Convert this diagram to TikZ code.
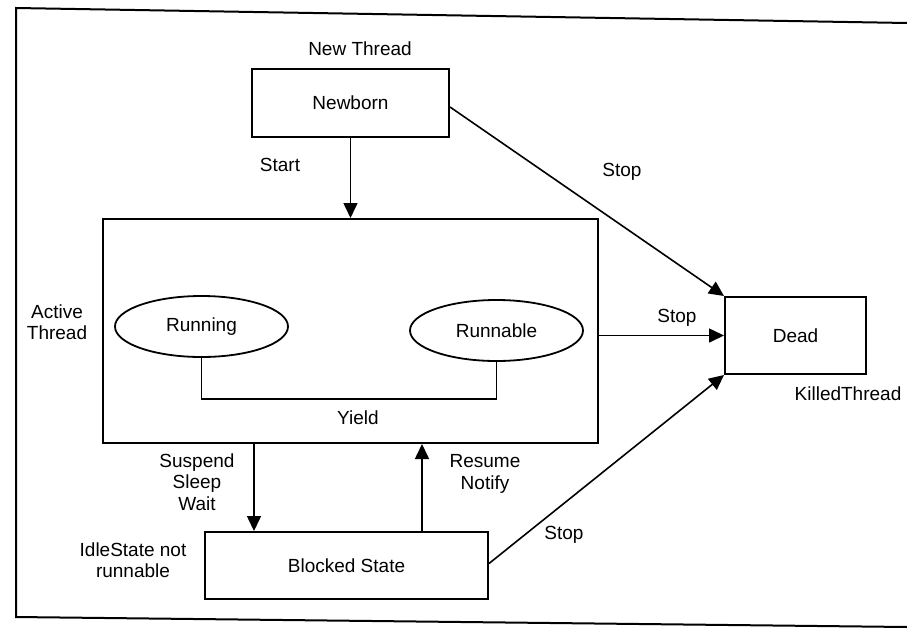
\documentclass[tikz,border=0pt]{standalone}
\usepackage{fontspec}
\setmainfont{Liberation Sans}
\usetikzlibrary{arrows.meta,shapes.geometric}

\begin{document}
\begin{tikzpicture}[x=1pt,y=-1pt,line width=1.6pt,
  font=\fontsize{19}{21.5}\selectfont,
  statebox/.style={draw,rectangle,line width=2pt,inner sep=0pt},
  stateoval/.style={draw,ellipse,line width=1.8pt,inner sep=0pt,minimum width=173pt,minimum height=61pt},
  lbl/.style={align=center,inner sep=0pt},
  trans/.style={-{Triangle[width=14pt,length=15pt]}}]
\useasboundingbox (0,0) rectangle (907,629);
% frame
\draw[line width=2pt] (907,23) -- (16,8) -- (16,617) -- (907,627);
% states
\node[statebox,minimum width=197pt,minimum height=68pt] (newborn) at (350.5,103) {Newborn};
\node[statebox,minimum width=495pt,minimum height=224pt] (active) at (350.5,331) {};
\node[stateoval] (running) at (201.5,326.5) {Running};
\node[stateoval] (runnable) at (496.5,330.5) {Runnable};
\node[statebox,minimum width=141pt,minimum height=77pt] (dead) at (795.5,335.5) {Dead};
\node[statebox,minimum width=283pt,minimum height=67pt] (blocked) at (346.5,565.5) {Blocked State};
% labels
\node[lbl] (newlbl) at (360,49) {New Thread};
\node[lbl] (activelbl) at (57,322) {Active\\Thread};
\node[lbl] (killedlbl) at (848,394) {KilledThread};
\node[lbl] (idlelbl) at (133,560) {IdleState not\\runnable};
\node[lbl] (startlbl) at (280,165) {Start};
\node[lbl] (yieldlbl) at (358,418) {Yield};
\node[lbl] (suspendlbl) at (197,482) {Suspend\\Sleep\\Wait};
\node[lbl] (resumelbl) at (485,474) {Resume\\Notify};
\node[lbl] (stoplbla) at (622,172) {Stop};
\node[lbl] (stoplblb) at (677,318) {Stop};
\node[lbl] (stoplblc) at (564,535) {Stop};
% transitions
\coordinate (yieldbar) at (350,399);
\coordinate (suspendx) at (254,0);
\coordinate (resumex) at (422,0);
\draw[trans] (newborn.south) -- (active.north);
\draw (running.south) |- (yieldbar) -| (runnable.south);
\draw[trans] ([yshift=-4pt]newborn.east) -- (dead.north west);
\draw[trans] (active.east |- dead.west) -- (dead.west);
\draw[trans] ([yshift=2pt]blocked.east) -- (dead.south west);
\draw[trans] (active.south -| suspendx) -- (blocked.north -| suspendx);
\draw[trans] (blocked.north -| resumex) -- (active.south -| resumex);
\end{tikzpicture}
\end{document}
